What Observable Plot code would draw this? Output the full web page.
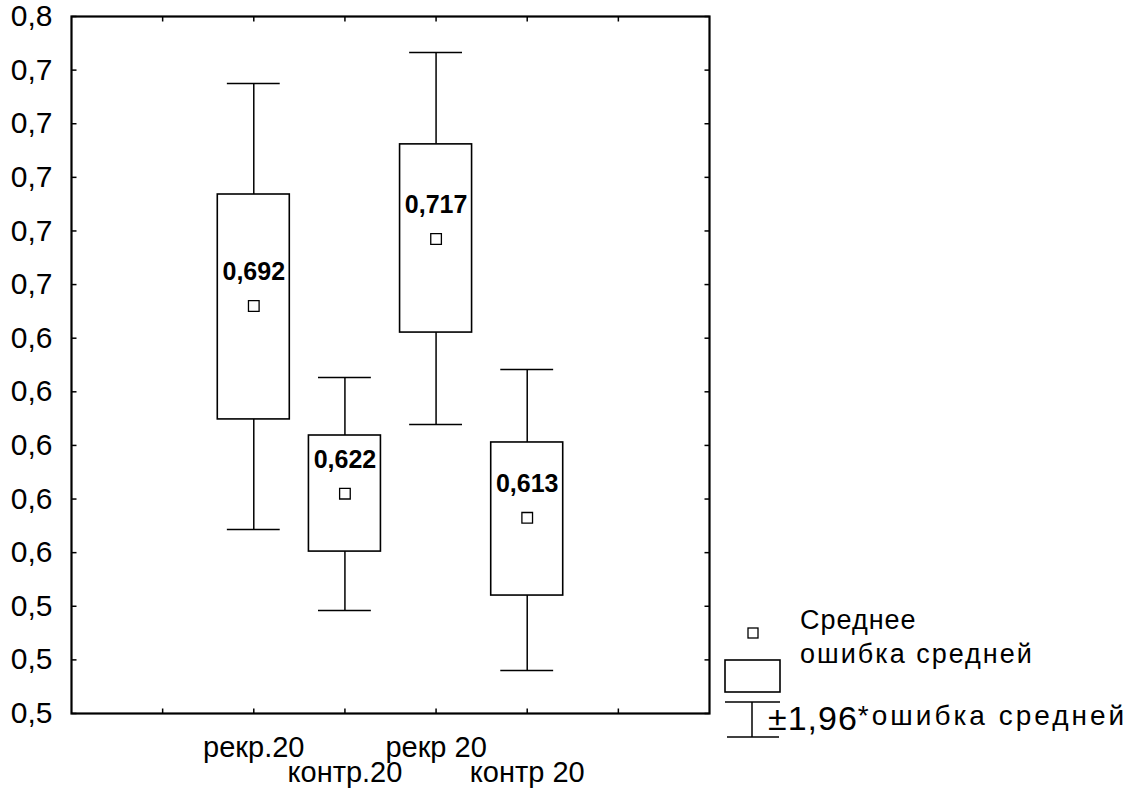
<!DOCTYPE html>
<html><head><meta charset="utf-8">
<script src="https://cdn.jsdelivr.net/npm/d3@7"></script>
<script src="https://cdn.jsdelivr.net/npm/@observablehq/plot@0.6"></script>
<style>
body{margin:0;background:#fff;font-family:"Liberation Sans",Arial,sans-serif;}
#wrap{position:relative;width:1137px;height:790px;}
#legend{position:absolute;left:0;top:0;pointer-events:none;}
</style></head><body><div id="wrap"></div>
<script>
const groups = ["рекр.20", "контр.20", "рекр 20", "контр 20"];
const groupPos = [1, 2, 3, 4];
const means = [0.692, 0.622, 0.717, 0.613];
const meanLabels = ["0,692", "0,622", "0,717", "0,613"];
const seLow = [0.6497, 0.6004, 0.6821, 0.5840];
const seHigh = [0.7336, 0.6437, 0.7523, 0.6411];
const ciLow = [0.6086, 0.5784, 0.6478, 0.5560];
const ciHigh = [0.7750, 0.6653, 0.7866, 0.6683];
const yTicks = [0.54, 0.56, 0.58, 0.60, 0.62, 0.64, 0.66, 0.68, 0.70, 0.72, 0.74, 0.76, 0.78, 0.80];
const yTickLabels = ["0,5", "0,5", "0,5", "0,6", "0,6", "0,6", "0,6", "0,6", "0,7", "0,7", "0,7", "0,7", "0,7", "0,8"];
const xTicks = [0, 1, 2, 3, 4, 5];
const legendLabels = ["Среднее", "ошибка средней", "±1,96", "*ошибка средней"];

const data = groups.map((g, i) => ({
  g, x: groupPos[i], mean: means[i], label: meanLabels[i],
  seLow: seLow[i], seHigh: seHigh[i], ciLow: ciLow[i], ciHigh: ciHigh[i], row: i % 2
}));

const tickSym = (dx, dy) => ({draw(ctx, size) { const l = Math.sqrt(size / Math.PI); ctx.moveTo(0, 0); ctx.lineTo(dx * l, dy * l); }});
const up = tickSym(0, -1), down = tickSym(0, 1), right = tickSym(1, 0), left = tickSym(-1, 0);
const FONT = "Liberation Sans, Arial, sans-serif";
const boxHalf = 0.395, capHalf = 0.29;

const chart = Plot.plot({
  width: 1137, height: 790,
  marginLeft: 71, marginRight: 428, marginTop: 16, marginBottom: 77,
  style: {fontFamily: FONT, background: "white", color: "black"},
  x: {domain: [-1, 6], axis: null},
  y: {domain: [0.54, 0.80], axis: null},
  marks: [
    Plot.axisY(yTicks, {tickSize: 0, tickPadding: 19, fontSize: 30, tickFormat: (d, i) => yTickLabels[i], letterSpacing: 0.5}),
    // inward ticks
    Plot.dot(yTicks, {x: -1, y: d => d, r: 5, symbol: right, stroke: "black", strokeWidth: 1.5, fill: "none"}),
    Plot.dot(yTicks, {x: 6, y: d => d, r: 5, symbol: left, stroke: "black", strokeWidth: 1.5, fill: "none"}),
    Plot.dot(xTicks, {x: d => d, y: 0.54, r: 5, symbol: up, stroke: "black", strokeWidth: 1.5, fill: "none"}),
    Plot.dot(xTicks, {x: d => d, y: 0.80, r: 5, symbol: down, stroke: "black", strokeWidth: 1.5, fill: "none"}),
    // whiskers
    Plot.ruleX(data, {x: "x", y1: "ciLow", y2: "seLow", stroke: "black", strokeWidth: 1.5}),
    Plot.ruleX(data, {x: "x", y1: "seHigh", y2: "ciHigh", stroke: "black", strokeWidth: 1.5}),
    Plot.ruleY(data, {y: "ciLow", x1: d => d.x - capHalf, x2: d => d.x + capHalf, stroke: "black", strokeWidth: 1.5}),
    Plot.ruleY(data, {y: "ciHigh", x1: d => d.x - capHalf, x2: d => d.x + capHalf, stroke: "black", strokeWidth: 1.5}),
    // boxes
    Plot.rect(data, {x1: d => d.x - boxHalf, x2: d => d.x + boxHalf, y1: "seLow", y2: "seHigh", fill: "white", stroke: "black", strokeWidth: 1.6}),
    // means
    Plot.dot(data, {x: "x", y: "mean", symbol: "square", r: 6, fill: "white", stroke: "black", strokeWidth: 1.3}),
    Plot.text(data, {x: "x", y: "mean", text: "label", dy: -34, fontSize: 25, fontWeight: "bold", fill: "black"}),
    // category labels
    Plot.text(data.filter(d => d.row === 0), {x: "x", text: "g", frameAnchor: "bottom", dy: 43, fontSize: 29, fill: "black", letterSpacing: 2.5}),
    Plot.text(data.filter(d => d.row === 1), {x: "x", text: "g", frameAnchor: "bottom", dy: 68, fontSize: 29, fill: "black", letterSpacing: 2.5}),
    Plot.frame({stroke: "black", strokeWidth: 2.2})
  ]
});
const wrap = document.getElementById("wrap");
wrap.appendChild(chart);

// legend
const ns = "http://www.w3.org/2000/svg";
const leg = document.createElementNS(ns, "svg");
leg.setAttribute("id", "legend");
leg.setAttribute("width", 1137); leg.setAttribute("height", 790);
const el = (tag, attrs, text) => { const e = document.createElementNS(ns, tag); for (const k in attrs) e.setAttribute(k, attrs[k]); if (text) e.textContent = text; leg.appendChild(e); return e; };
el("rect", {x: 748, y: 628, width: 10, height: 10, fill: "white", stroke: "black", "stroke-width": 1.3});
el("text", {x: 800, y: 629, "font-size": 27, "font-family": FONT, "letter-spacing": 1}, legendLabels[0]);
el("rect", {x: 725, y: 660, width: 55, height: 32, fill: "white", stroke: "black", "stroke-width": 1.6});
el("text", {x: 800, y: 663, "font-size": 27, "font-family": FONT, "letter-spacing": 2}, legendLabels[1]);
el("line", {x1: 725, x2: 780, y1: 702, y2: 702, stroke: "black", "stroke-width": 1.5});
el("line", {x1: 752, x2: 752, y1: 702, y2: 737, stroke: "black", "stroke-width": 1.5});
el("line", {x1: 727, x2: 779, y1: 737, y2: 737, stroke: "black", "stroke-width": 1.5});
const t = el("text", {x: 768, y: 730, "font-family": FONT});
const a = document.createElementNS(ns, "tspan"); a.setAttribute("font-size", 34); a.setAttribute("letter-spacing", 1); a.textContent = legendLabels[2]; t.appendChild(a);
const b = document.createElementNS(ns, "tspan"); b.setAttribute("font-size", 28); b.setAttribute("dy", -5); b.setAttribute("letter-spacing", 3); b.textContent = legendLabels[3]; t.appendChild(b);
wrap.appendChild(leg);
</script></body></html>
